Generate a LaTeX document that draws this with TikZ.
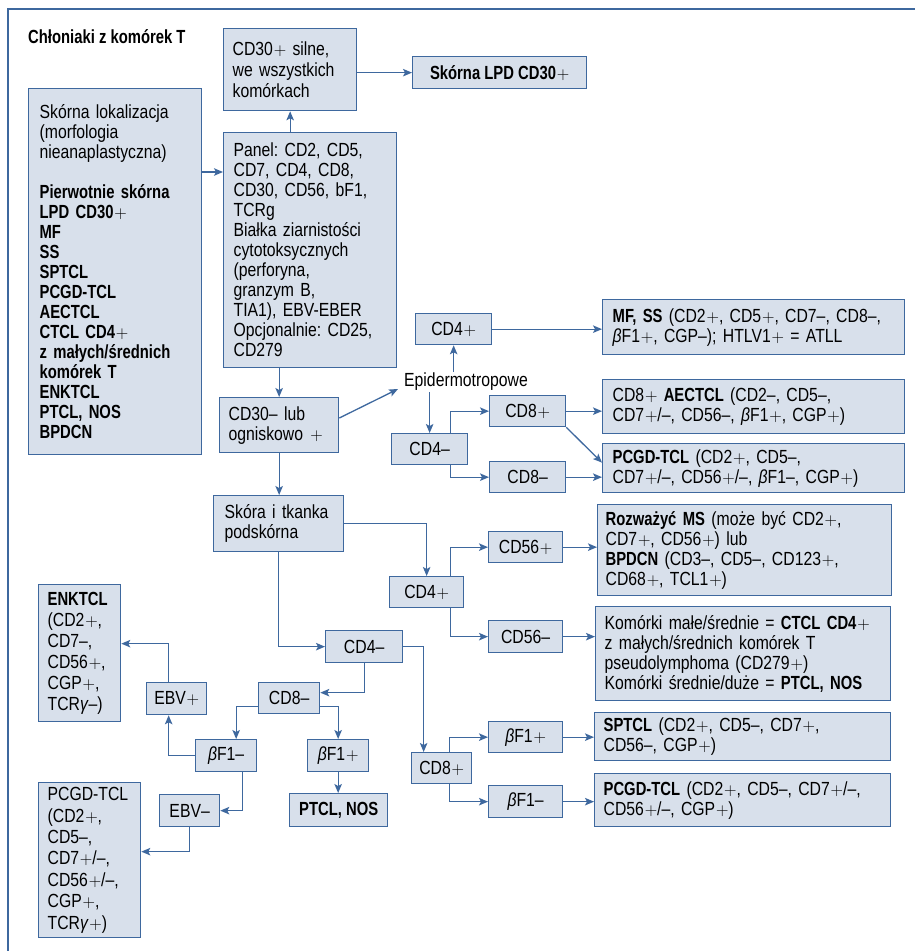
\documentclass[tikz,border=0pt]{standalone}
\usepackage{fontspec}
\setmainfont{Liberation Sans}[FakeStretch=0.83, BoldFeatures={FakeStretch=0.78}]
\usetikzlibrary{arrows.meta,calc}
\definecolor{boxfill}{RGB}{216,224,235}
\definecolor{bord}{RGB}{62,104,158}
\newcommand{\pl}{\kern0.8pt$+$}
\begin{document}
\frenchspacing
\begin{tikzpicture}[x=1pt,y=-1pt, font=\fontsize{19}{20}\selectfont,
  box/.style={draw=bord, fill=boxfill, line width=1.3pt, anchor=north west, align=left, inner ysep=0pt},
  cbox/.style={draw=bord, fill=boxfill, line width=1.3pt, anchor=north west, align=center, inner sep=0pt},
  arr/.style={draw=bord, line width=1.3pt, -{Stealth[length=9pt,width=7.5pt,inset=2pt]}}]
\useasboundingbox (0,0) rectangle (915,951);
\draw[bord, line width=1.3pt] (915,9) -- (8,9) -- (8,951);

\node[anchor=west, font=\fontsize{19}{20}\selectfont\bfseries, inner sep=0pt] (title) at (28,37) {Chłoniaki z komórek T};

\node[box, inner xsep=11pt, text width=151pt, minimum height=366pt] (left) at (28,88)
 {Skórna lokalizacja\\(morfologia\\nieanaplastyczna)\\[20pt]\textbf{Pierwotnie skórna}\\\textbf{LPD CD30\pl}\\\textbf{MF}\\\textbf{SS}\\\textbf{SPTCL}\\\textbf{PCGD-TCL}\\\textbf{AECTCL}\\\textbf{CTCL CD4\pl}\\\textbf{z małych/średnich}\\\textbf{komórek T}\\\textbf{ENKTCL}\\\textbf{PTCL, NOS}\\\textbf{BPDCN}};

\node[box, inner xsep=9pt, text width=115pt, minimum height=82pt, font=\fontsize{19}{21}\selectfont] (silne) at (223,28)
 {CD30\pl{} silne,\\we wszystkich\\komórkach};
\node[cbox, minimum width=174pt, minimum height=32pt, font=\fontsize{19}{20}\selectfont\bfseries] (lpd) at (412,56) {Skórna LPD CD30\pl};

\node[box, inner xsep=10pt, text width=153pt, minimum height=235pt] (panel) at (223,132)
 {Panel: CD2, CD5,\\CD7, CD4, CD8,\\CD30, CD56, bF1,\\TCRg\\Białka ziarnistości\\cytotoksycznych\\(perforyna,\\granzym B,\\TIA1), EBV-EBER\\Opcjonalnie: CD25,\\CD279};

\node[box, inner xsep=9pt, text width=101pt, minimum height=55pt] (cd30neg) at (219,397)
 {CD30– lub\\ogniskowo \pl};

\node[inner sep=1pt] (epid) at (466,382) {Epidermotropowe};

\node[cbox, minimum width=76pt, minimum height=31pt] (cd4a) at (415,313) {CD4\pl};
\node[box, inner xsep=10pt, text width=282pt, minimum height=55pt] (mfss) at (602,299)
 {\textbf{MF, SS} (CD2\pl, CD5\pl, CD7–, CD8–,\\\textit{β}F1\pl, CGP–); HTLV1\pl{} = ATLL};

\node[cbox, minimum width=76pt, minimum height=31pt] (cd4b) at (391,433) {CD4–};
\node[cbox, minimum width=76pt, minimum height=31pt] (cd8a) at (489,395) {CD8\pl};
\node[cbox, minimum width=76pt, minimum height=31pt] (cd8b) at (489,461) {CD8–};
\node[box, inner xsep=10pt, text width=282pt, minimum height=54pt] (aectcl) at (602,379)
 {CD8\pl{} \textbf{AECTCL} (CD2–, CD5–,\\CD7\pl/–, CD56–, \textit{β}F1\pl, CGP\pl)};
\node[box, inner xsep=10pt, text width=282pt, minimum height=49pt] (pcgd1) at (602,443)
 {\textbf{PCGD-TCL} (CD2\pl, CD5–,\\CD7\pl/–, CD56\pl/–, \textit{β}F1–, CGP\pl)};

\node[box, inner xsep=11pt, text width=108pt, minimum height=56pt] (skora) at (213,495)
 {Skóra i tkanka\\podskórna};

\node[cbox, minimum width=74pt, minimum height=31pt] (cd4c) at (389,576) {CD4\pl};
\node[cbox, minimum width=74pt, minimum height=31pt] (cd56p) at (488,531) {CD56\pl};
\node[cbox, minimum width=74pt, minimum height=32pt] (cd56m) at (488,620) {CD56–};
\node[box, inner xsep=8pt, text width=278pt, minimum height=91pt] (ms) at (597,504)
 {\textbf{Rozważyć MS} (może być CD2\pl,\\CD7\pl, CD56\pl) lub\\\textbf{BPDCN} (CD3–, CD5–, CD123\pl,\\CD68\pl, TCL1\pl)};
\node[box, inner xsep=9pt, text width=277pt, minimum height=94pt] (ctcl) at (595,606)
 {Komórki małe/średnie = \textbf{CTCL CD4\pl}\\z małych/średnich komórek T\\pseudolymphoma (CD279\pl)\\Komórki średnie/duże = \textbf{PTCL, NOS}};

\node[cbox, minimum width=77pt, minimum height=32pt] (cd4d) at (325,630) {CD4–};
\node[cbox, minimum width=60pt, minimum height=31pt] (cd8c) at (411,752) {CD8\pl};
\node[cbox, minimum width=74pt, minimum height=31pt] (bf1p) at (488,721) {\textit{β}F1\pl};
\node[cbox, minimum width=74pt, minimum height=32pt] (bf1m) at (488,785) {\textit{β}F1–};
\node[box, inner xsep=9pt, text width=278pt, minimum height=48pt] (sptcl) at (594,712)
 {\textbf{SPTCL} (CD2\pl, CD5–, CD7\pl,\\CD56–, CGP\pl)};
\node[box, inner xsep=9pt, text width=278pt, minimum height=53pt] (pcgd2) at (594,773)
 {\textbf{PCGD-TCL} (CD2\pl, CD5–, CD7\pl/–,\\CD56\pl/–, CGP\pl)};

\node[cbox, minimum width=61pt, minimum height=31pt] (cd8d) at (258,682) {CD8–};
\node[cbox, minimum width=61pt, minimum height=32pt] (bf1m2) at (195,739) {\textit{β}F1–};
\node[cbox, minimum width=61pt, minimum height=32pt] (bf1p2) at (307,739) {\textit{β}F1\pl};
\node[cbox, minimum width=98pt, minimum height=33pt, font=\fontsize{19}{20}\selectfont\bfseries] (ptcl) at (289,793) {PTCL, NOS};
\node[cbox, minimum width=60pt, minimum height=32pt] (ebvp) at (146,682) {EBV\pl};
\node[cbox, minimum width=60pt, minimum height=32pt] (ebvm) at (159,794) {EBV–};
\node[box, inner xsep=9pt, text width=64pt, minimum height=137pt, font=\fontsize{19}{21}\selectfont] (enktcl) at (38,584)
 {\textbf{ENKTCL}\\(CD2\pl,\\CD7–,\\CD56\pl,\\CGP\pl,\\TCR\textit{γ}–)};
\node[box, inner xsep=9pt, text width=84pt, minimum height=155pt, font=\fontsize{19}{21.4}\selectfont] (pcgdL) at (38,782)
 {PCGD-TCL\\(CD2\pl,\\CD5–,\\CD7\pl/–,\\CD56\pl/–,\\CGP\pl,\\TCR\textit{γ}\pl)};

\draw[arr] (left.east |- 0,172) -- (panel.west |- 0,172);
\draw[arr] (silne.south |- panel.north) -- (silne.south);
\draw[arr] (silne.east |- lpd.west) -- (lpd.west);
\draw[arr] (cd30neg.north |- panel.south) -- (cd30neg.north);
\draw[arr] (cd30neg.east |- 0,418) -- ($(epid.west)+(-5,7)$);
\draw[arr] (cd4a.south |- epid.north) -- (cd4a.south);
\draw[arr] (cd4a.east) -- (mfss.west |- cd4a.east);
\draw[arr] (cd4b.north |- epid.south) -- (cd4b.north);
\draw[arr] ([xshift=21pt]cd4b.north) |- (cd8a.west);
\draw[arr] ([xshift=21pt]cd4b.south) |- (cd8b.west);
\draw[arr] (cd8a.east) -- (aectcl.west |- cd8a.east);
\draw[arr] (cd8a.south east) -- ([yshift=5.5pt]pcgd1.west);
\draw[arr] (cd8b.east) -- (pcgd1.west |- cd8b.east);
\draw[arr] (cd30neg.south) -- (cd30neg.south |- skora.north);
\draw[arr] (skora.east) -| (cd4c.north);
\draw[arr] ([xshift=24pt]cd4c.north) |- (cd56p.west);
\draw[arr] ([xshift=24pt]cd4c.south) |- (cd56m.west);
\draw[arr] (cd56p.east) -- (ms.west |- cd56p.east);
\draw[arr] (cd56m.east) -- (ctcl.west |- cd56m.east);
\draw[arr] (skora.south) |- (cd4d.west);
\draw[arr] (cd4d.east) -| ([xshift=-18pt]cd8c.north);
\draw[arr] ([xshift=8pt]cd8c.north) |- (bf1p.west);
\draw[arr] ([xshift=8pt]cd8c.south) |- (bf1m.west);
\draw[arr] (bf1p.east) -- (sptcl.west |- bf1p.east);
\draw[arr] (bf1m.east) -- (pcgd2.west |- bf1m.east);
\draw[arr] (cd4d.south) |- ([yshift=5.5pt]cd8d.east);
\draw[arr] ([yshift=-8.5pt]cd8d.west) -| ([xshift=10pt]bf1m2.north);
\draw[arr] ([yshift=-8.5pt]cd8d.east) -| (bf1p2.north);
\draw[arr] (bf1p2.south) -- (bf1p2.south |- ptcl.north);
\draw[arr] (bf1m2.west) -| ([xshift=-8pt]ebvp.south);
\draw[arr] ([xshift=-8pt]ebvp.north) |- ([yshift=9.5pt]enktcl.east);
\draw[arr] ([xshift=16pt]bf1m2.south) |- (ebvm.east);
\draw[arr] (ebvm.south) |- ([yshift=8.5pt]pcgdL.east);
\end{tikzpicture}
\end{document}
